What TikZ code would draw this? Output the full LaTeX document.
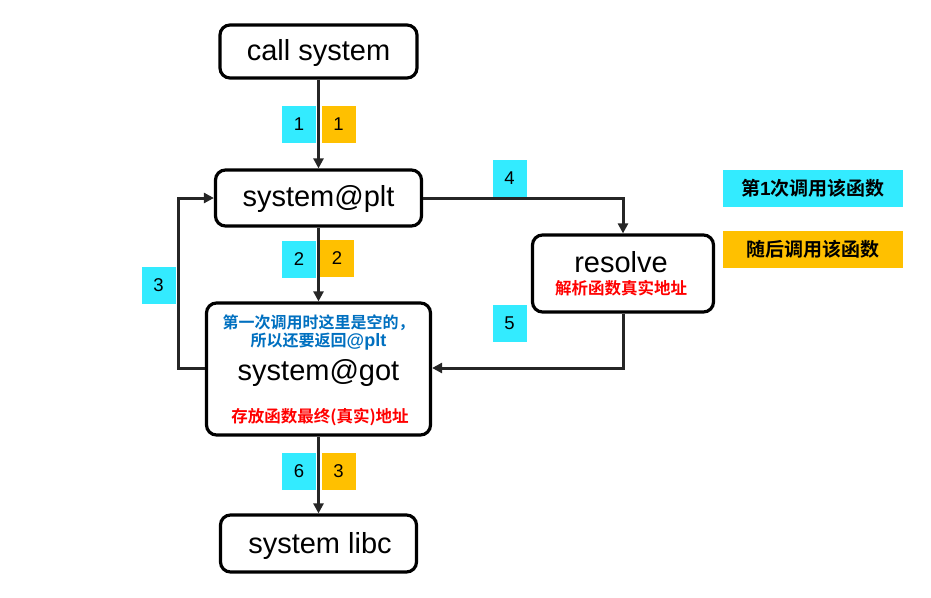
\documentclass[tikz,border=0pt]{standalone}
\usepackage{fontspec}
\setmainfont{Liberation Sans}
\newfontfamily\cjk{Noto Sans CJK SC}[BoldFont={* Bold}]
\usetikzlibrary{arrows.meta}
\definecolor{lblcyan}{RGB}{51,235,255}
\definecolor{lblorange}{RGB}{255,192,0}
\definecolor{txtblue}{RGB}{0,112,192}
\definecolor{linegray}{RGB}{38,38,38}
\tikzset{
  box/.style={draw=black, line width=3.2pt, rounded corners=10pt, fill=white, inner sep=0pt},
  conn/.style={draw=linegray, line width=3pt, -{Triangle[length=10pt,width=10pt]}},
  cyanlbl/.style={fill=lblcyan, minimum width=34pt, minimum height=37pt, inner sep=0pt, font=\fontsize{18.5}{18.5}\selectfont},
  orangelbl/.style={fill=lblorange, minimum width=34pt, minimum height=37pt, inner sep=0pt, font=\fontsize{18.5}{18.5}\selectfont},
  bigtxt/.style={font=\fontsize{29}{29}\selectfont, inner sep=0pt},
  cjkblue/.style={font=\fontsize{16}{16}\selectfont\cjk\bfseries, text=txtblue, inner sep=0pt},
  cjkred/.style={font=\fontsize{16.5}{16.5}\selectfont\cjk\bfseries, text=red, inner sep=0pt},
  legend/.style={minimum width=180pt, minimum height=37pt, inner sep=0pt, font=\fontsize{19}{19}\selectfont\cjk\bfseries}
}
\begin{document}
\begin{tikzpicture}[x=1pt,y=-1pt]
\useasboundingbox (0,0) rectangle (931,597);
% boxes
\node[box, minimum width=197pt, minimum height=53pt] (call) at (318.5,51.5) {};
\node[bigtxt] (calltxt) at (318.5,53) {call system};
\node[box, minimum width=206pt, minimum height=56pt] (plt) at (318.5,198) {};
\node[bigtxt] (plttxt) at (318.5,198.5) {system@plt};
\node[box, minimum width=224pt, minimum height=132pt] (got) at (318.5,369) {};
\node[cjkblue] (gotb1) at (318.5,323) {第一次调用时这里是空的，};
\node[cjkblue] (gotb2) at (318.5,342) {所以还要返回\textbf{\fontspec{Liberation Sans}\fontsize{18}{18}\selectfont @plt}};
\node[bigtxt] (gottxt) at (318.5,373) {system@got};
\node[cjkred] (gotr) at (320,417) {存放函数最终(真实)地址};
\node[box, minimum width=181pt, minimum height=77pt] (res) at (623,273.5) {};
\node[bigtxt] (restxt) at (621,262) {resolve};
\node[cjkred] (resr) at (621,288) {解析函数真实地址};
\node[box, minimum width=196pt, minimum height=57pt] (libc) at (318.5,543.5) {};
\node[bigtxt] (libctxt) at (320,546) {system libc};
% corner coordinates
\coordinate (c1) at (623,198);
\coordinate (c2) at (623,368);
\coordinate (c3) at (178,368);
\coordinate (c4) at (178,198);
% connectors
\draw[conn] (call.south) -- (plt.north);
\draw[conn] (plt.south) -- (got.north);
\draw[conn] (got.south) -- (libc.north);
\draw[conn] (plt.east) -- (c1) -- (res.north);
\draw[conn] (res.south) -- (c2) -- (got.east |- c2);
\draw[conn] (got.west |- c3) -- (c3) -- (c4) -- (plt.west);
% labels
\node[cyanlbl] (l1a) at (299,124.5) {1};
\node[orangelbl] (l1b) at (338.5,124.5) {1};
\node[cyanlbl] (l2a) at (299,259.5) {2};
\node[orangelbl] (l2b) at (337,258) {2};
\node[cyanlbl] (l3) at (158.5,285) {3};
\node[cyanlbl] (l4) at (509.5,178.5) {4};
\node[cyanlbl] (l5) at (509.5,323.5) {5};
\node[cyanlbl] (l6) at (299,471.5) {6};
\node[orangelbl] (l6b) at (338.5,471) {3};
% legend
\node[legend, fill=lblcyan] (leg1) at (813,188.5) {第\fontspec{Liberation Sans}\bfseries 1\cjk\bfseries 次调用该函数};
\node[legend, fill=lblorange] (leg2) at (813,249) {随后调用该函数};
\end{tikzpicture}
\end{document}
